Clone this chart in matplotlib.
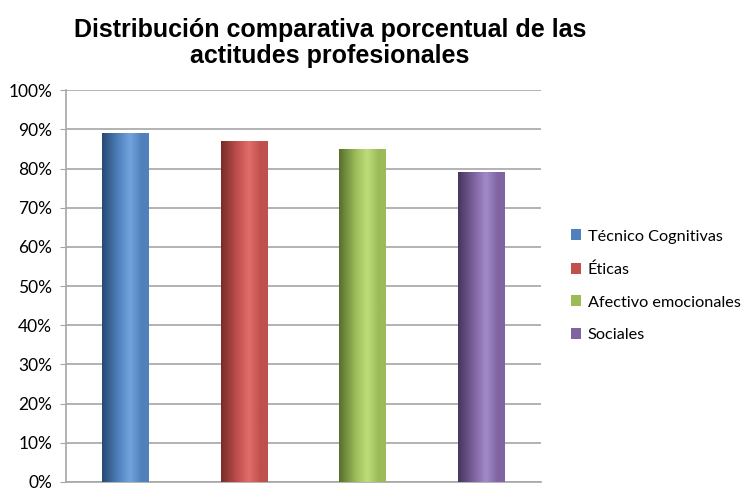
import numpy as np
import matplotlib.pyplot as plt
from matplotlib.colors import LinearSegmentedColormap
from matplotlib.patches import Patch
from matplotlib.ticker import PercentFormatter

categorias = ["Técnico Cognitivas", "Éticas", "Afectivo emocionales", "Sociales"]
valores = [89, 87, 85, 79]
colores = ["#4F81BD", "#C0504D", "#9BBB59", "#8064A2"]
claros = ["#74a3dc", "#e36c6a", "#bfdc7a", "#a08bc8"]
oscuros = ["#274a73", "#7a2c2a", "#56702c", "#45375c"]

fig = plt.figure(figsize=(7.45, 4.88), dpi=100)
ax = fig.add_axes([0.0886, 0.0123, 0.637, 0.803])

x = np.arange(len(categorias))
bars = ax.bar(x, valores, width=0.39, color=colores, zorder=2)

# degradado tipo cilindro en cada barra
grad = np.linspace(0, 1, 100)
for b, c, cl, os_ in zip(bars, colores, claros, oscuros):
    cmap = LinearSegmentedColormap.from_list("g", [(0, os_), (0.35, c), (0.6, cl), (0.85, c), (1, c)])
    x0, y0 = b.get_x(), b.get_y()
    w, h = b.get_width(), b.get_height()
    im = ax.imshow(grad.reshape(1, -1), cmap=cmap, aspect="auto",
                   extent=[x0, x0 + w, y0, y0 + h], zorder=3)
    im.set_clip_path(b)

ax.set_xlim(-0.5, len(categorias) - 0.5)
ax.set_ylim(0, 100)
ax.set_yticks(range(0, 101, 10))
ax.yaxis.set_major_formatter(PercentFormatter(decimals=0))
ax.set_xticks([])
ax.grid(axis="y", color="#a6a6a6", linewidth=1.2, zorder=0)
ax.set_axisbelow(True)
for s in ["top", "right"]:
    ax.spines[s].set_visible(False)
ax.spines["left"].set_color("#a6a6a6")
ax.spines["bottom"].set_color("#a6a6a6")
ax.spines["left"].set_linewidth(1.2)
ax.spines["bottom"].set_linewidth(1.2)
ax.tick_params(axis="y", length=4, color="#a6a6a6", labelsize=12.5, pad=6)
for t in ax.get_yticklabels():
    t.set_family("Lato")

fig.text(0.443, 0.911, "Distribución comparativa porcentual de las\nactitudes profesionales",
         ha="center", va="center", fontsize=18, fontweight="bold",
         family="Liberation Sans", linespacing=1.1)

handles = [Patch(facecolor=c) for c in colores]
fig.legend(handles, categorias, loc="center left", bbox_to_anchor=(0.766, 0.414),
           frameon=False, prop={"family": "Lato", "size": 11.7},
           handlelength=0.65, handleheight=0.65, handletextpad=0.4, labelspacing=1.15,
           borderpad=0, borderaxespad=0)

fig.savefig("out.png", dpi=100)
